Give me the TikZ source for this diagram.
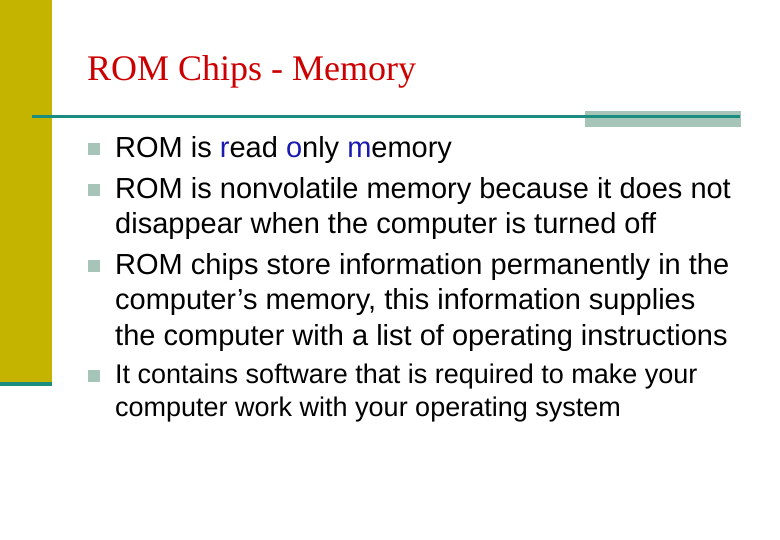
\documentclass[tikz,border=0pt]{standalone}
\usepackage{fontspec}
\setmainfont{Liberation Sans}
\newfontfamily\titlefont{Liberation Serif}
\usetikzlibrary{positioning}
\definecolor{olivebar}{HTML}{C4B400}
\definecolor{tealline}{HTML}{1A8C80}
\definecolor{sage}{HTML}{A6C5B8}
\definecolor{titlered}{HTML}{CC0000}
\definecolor{rblue}{HTML}{1A1AB0}
\tikzstyle{bul}=[fill=sage, minimum size=12pt, inner sep=0pt]
\tikzstyle{txt}=[anchor=base west, inner sep=0pt, font=\fontsize{29}{36}\selectfont]
\tikzstyle{small}=[anchor=base west, inner sep=0pt, font=\fontsize{27}{33}\selectfont]
\begin{document}
\begin{tikzpicture}[x=1pt, y=-1pt]
	\useasboundingbox (0,0) rectangle (780,540);
	\fill[olivebar] (0,0) rectangle (52,382);
	\fill[tealline] (0,382) rectangle (52,386);
	\fill[sage] (585,111) rectangle (741,127);
	\draw[tealline, line width=3pt] (32,117) -- (740,117);
	%
	\node[anchor=base west, inner sep=0pt, text=titlered, font=\titlefont\fontsize{36}{40}\selectfont] (title) at (87,81) {ROM Chips - Memory};
	%
	\node[bul] (b1) at (94,149) {};
	\node[bul] (b2) at (94,190) {};
	\node[bul] (b3) at (94,266) {};
	\node[bul] (b4) at (94,376) {};
	\node[txt] (t1) at (115,158) {ROM is \textcolor{rblue}{r}ead \textcolor{rblue}{o}nly \textcolor{rblue}{m}emory};
	\node[txt] (t2a) at (115,199) {ROM is nonvolatile memory because it does not};
	\node[txt] (t2b) at (115,234) {disappear when the computer is turned off};
	\node[txt] (t3a) at (115,275) {ROM chips store information permanently in the};
	\node[txt] (t3b) at (115,310) {computer's memory, this information supplies};
	\node[txt] (t3c) at (115,345) {the computer with a list of operating instructions};
	\node[small] (t4a) at (115,384) {It contains software that is required to make your};
	\node[small] (t4b) at (115,417) {computer work with your operating system};
\end{tikzpicture}
\end{document}
